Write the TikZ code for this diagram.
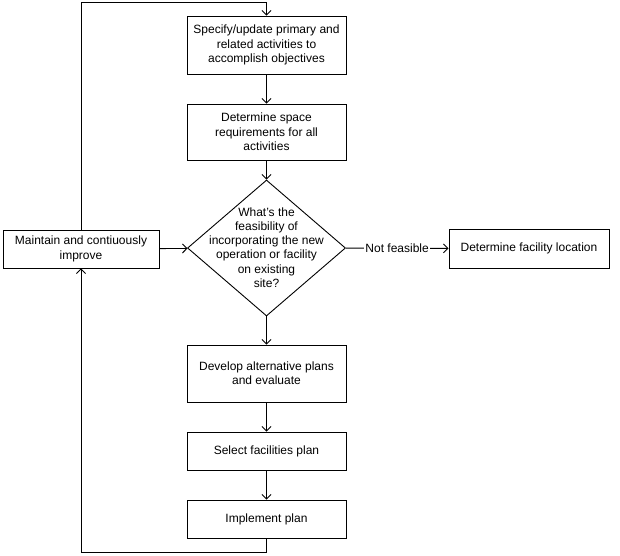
\documentclass[tikz,border=0pt]{standalone}
\usepackage{fontspec}
\setmainfont{Liberation Sans}
\usetikzlibrary{shapes.geometric,arrows.meta}
\begin{document}
\begin{tikzpicture}[x=1pt,y=-1pt,
  every node/.style={font=\fontsize{12}{14.3}\selectfont},
  box/.style={draw,line width=0.9pt,minimum width=159pt,align=center,inner sep=2pt},
  conn/.style={line width=0.9pt,-{Straight Barb[length=4.5pt,width=9pt]}},
  plain/.style={line width=0.9pt}]
\useasboundingbox[fill=white] (0,0) rectangle (620,555);
\node[box,minimum height=58pt] (b1) at (266.5,45) {Specify/update primary and\\related activities to\\accomplish objectives};
\node[box,minimum height=56pt] (b2) at (266.5,132) {Determine space\\requirements for all\\activities};
\node[draw,diamond,line width=0.9pt,minimum width=158pt,minimum height=136pt,inner sep=0pt] (q) at (266.5,248) {};
\node[align=center,inner sep=0pt] (qt) at (266.5,247.5) {What's the\\feasibility of\\incorporating the new\\operation or facility\\on existing\\site?};
\node[box,minimum width=156pt,minimum height=38pt] (m) at (81,249) {Maintain and contiuously\\improve};
\node[box,minimum width=160pt,minimum height=39pt] (loc) at (529,248.5) {Determine facility location};
\node[box,minimum height=57pt] (d) at (266.5,373.5) {Develop alternative plans\\and evaluate};
\node[box,minimum height=38pt] (s) at (266.5,451) {Select facilities plan};
\node[box,minimum height=38pt] (i) at (266.5,519) {Implement plan};
\coordinate (tl) at (81,2);
\coordinate (tr) at (266.5,2);
\coordinate (bl) at (81,552);
\coordinate (br) at (266.5,552);
\draw[conn] (b1) -- (b2);
\draw[conn] (b2) -- (q);
\draw[conn] (q) -- (d);
\draw[conn] (d) -- (s);
\draw[conn] (s) -- (i);
\draw[conn] (m) -- (q);
\draw[conn] (q) -- node[fill=white,inner sep=1pt] (nf) {Not feasible} (loc);
\draw[conn] (m.north) -- (tl) -- (tr) -- (b1.north);
\draw[conn] (i.south) -- (br) -- (bl) -- (m.south);
\end{tikzpicture}
\end{document}
